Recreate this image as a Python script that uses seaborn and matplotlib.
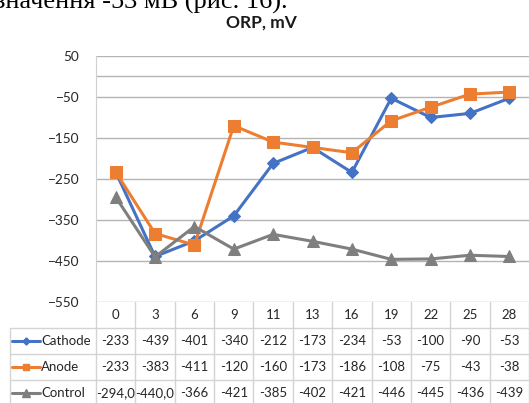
import pandas as pd
import matplotlib
matplotlib.use('Agg')
import matplotlib.pyplot as plt
import seaborn as sns

# data
days = [0, 3, 6, 9, 11, 13, 16, 19, 22, 25, 28]
cathode = [-233, -439, -401, -340, -212, -173, -234, -53, -100, -90, -53]
anode = [-233, -383, -411, -120, -160, -173, -186, -108, -75, -43, -38]
control = [-294, -440, -366, -421, -385, -402, -421, -446, -445, -436, -439]
control_labels = ['-294,0', '-440,0', '-366', '-421', '-385', '-402', '-421',
                  '-446', '-445', '-436', '-439']
series_names = ['Cathode', 'Anode', 'Control']
y_ticks = [-550, -450, -350, -250, -150, -50, 50]

sns.set_style('white')
plt.rcParams['font.family'] = ['Lato', 'DejaVu Sans']

# long table for seaborn
pos = list(range(len(days)))
df = pd.DataFrame({
    'pos': pos * 3,
    'value': cathode + anode + control,
    'series': [n for n in series_names for _ in days],
})

colors = {'Cathode': '#4472C4', 'Anode': '#ED7D31', 'Control': '#7F7F7F'}
markers = {'Cathode': 'D', 'Anode': 's', 'Control': '^'}
msizes = {'Cathode': 6, 'Anode': 8, 'Control': 9}

fig = plt.figure(figsize=(5.29, 4.03), dpi=100)
ax = fig.add_axes([96/529, 1-302/403, 433/529, 246/403])

for name in series_names:
    sns.lineplot(data=df[df['series'] == name], x='pos', y='value', ax=ax,
                 color=colors[name], marker=markers[name], markersize=msizes[name],
                 markeredgecolor=colors[name], linewidth=2.2, legend=False)

ax.set_xlim(-0.5, len(days) - 0.5)
ax.set_ylim(-550, 50)
ax.set_yticks(y_ticks)
ax.set_xticks([])
ax.set_xlabel('')
ax.set_ylabel('')
ax.tick_params(axis='y', length=0, pad=12, labelsize=9.8, labelcolor='#262626')
ax.grid(axis='y', color='#b4b4b4', linewidth=1)
ax.axhline(0, color='#b4b4b4', linewidth=1, zorder=0.5)
for s in ['top', 'right', 'bottom']:
    ax.spines[s].set_visible(False)
ax.spines['left'].set_color('#d0d0d0')

# data table below the plot
trans = ax.get_xaxis_transform()
row_h = 26 / 246
bottom = -0.42
line_c = '#d4d4d4'
for k in range(len(days) + 1):
    ax.plot([k - 0.5, k - 0.5], [0, bottom], transform=trans, color=line_c,
            lw=1, clip_on=False)
left_x = (10 - 96) / 433
for r in range(1, 4):
    ax.plot([left_x, 1], [-r * row_h] * 2, transform=ax.transAxes, color=line_c,
            lw=1, clip_on=False)
ax.plot([left_x, left_x], [-row_h, bottom], transform=ax.transAxes, color=line_c,
        lw=1, clip_on=False)

for i, d in enumerate(days):
    ax.text(i, -0.5 * row_h, str(d), transform=trans, ha='center', va='center',
            fontsize=9.5, color='#262626', clip_on=False)

rows = [
    ('Cathode', [str(v) for v in cathode]),
    ('Anode', [str(v) for v in anode]),
    ('Control', control_labels),
]
for r, (name, labels) in enumerate(rows):
    yc = -(r + 1.5) * row_h
    for i, lab in enumerate(labels):
        ax.text(i, yc, lab, transform=trans, ha='center', va='center',
                fontsize=9.5, color='#262626', clip_on=False)
    x0, x1 = (12 - 96) / 433, (40 - 96) / 433
    ax.plot([x0, x1], [yc, yc], transform=ax.transAxes, color=colors[name],
            lw=2.2, clip_on=False)
    ax.plot([(x0 + x1) / 2], [yc], transform=ax.transAxes, color=colors[name],
            marker=markers[name], markersize=msizes[name] * 0.6, clip_on=False)
    ax.text((41 - 96) / 433, yc, name, transform=ax.transAxes, ha='left',
            va='center', fontsize=9.5, color='#262626', clip_on=False)

fig.text(261/529, 1 - 23/403, 'ORP, mV', ha='center', va='center',
         fontsize=12.5, fontweight='bold', color='#1a1a1a')

# cropped line of document text above the chart
fig.text(-5/529, 1 - 9/403, 'значення -53 мВ (рис. 16).', ha='left',
         va='baseline', fontsize=19, family=['Liberation Serif', 'DejaVu Serif'],
         color='black')

fig.savefig('out.png', dpi=100)
